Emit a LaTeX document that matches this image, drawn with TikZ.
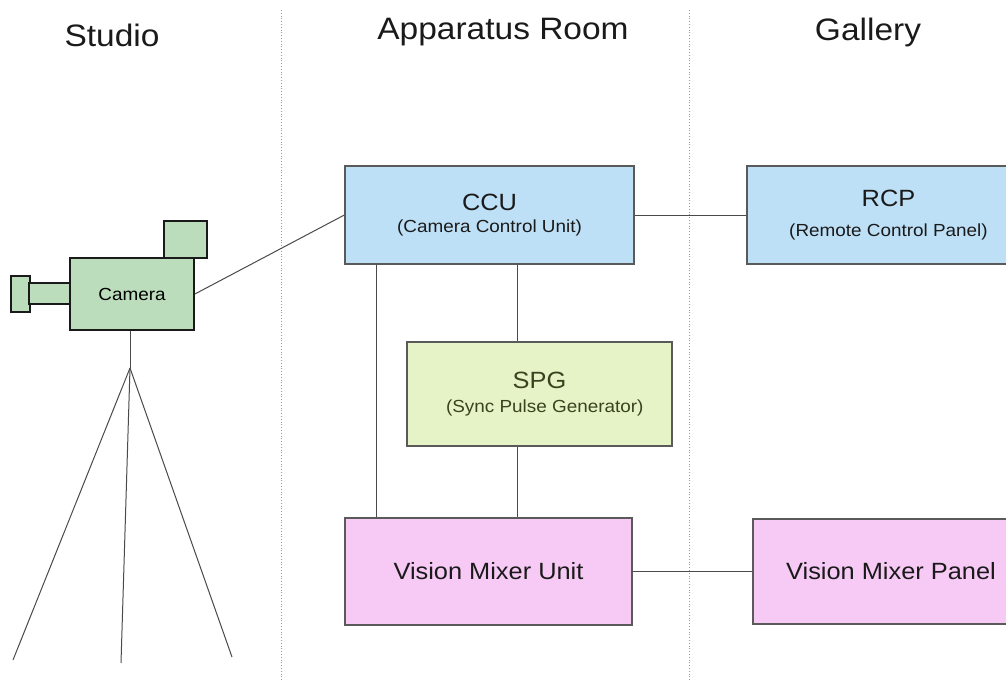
\documentclass[tikz,border=0pt]{standalone}
\usepackage{fontspec}
\setmainfont[FakeStretch=1.08]{Liberation Sans}
\usetikzlibrary{positioning,calc}
\definecolor{ink}{HTML}{1A1A1A}
\definecolor{edge}{HTML}{5A5A5A}
\definecolor{wire}{HTML}{4A4A4A}
\definecolor{ccublue}{HTML}{BEE0F6}
\definecolor{spggreen}{HTML}{E6F3C6}
\definecolor{spgtext}{HTML}{3A4220}
\definecolor{mixpink}{HTML}{F7CAF5}
\definecolor{camgreen}{HTML}{BCDDBC}
\newcommand{\subsize}{\fontsize{17.5}{20}\selectfont}
\tikzset{
  unit/.style={draw=edge,line width=1.3pt,align=center,text=ink,inner sep=0pt,font=\fontsize{23.5}{28}\selectfont},
  ctrl/.style={unit,fill=ccublue},
  sync/.style={unit,fill=spggreen,text=spgtext},
  mix/.style={unit,fill=mixpink},
  cambody/.style={draw=ink,line width=1.4pt,fill=camgreen},
  room/.style={font=\fontsize{31}{36}\selectfont,text=ink},
  wirel/.style={draw=wire,line width=1pt},
  divider/.style={draw=gray!80,dotted,line width=0.8pt},
}
\begin{document}
\begin{tikzpicture}[x=1pt,y=-1pt]
  \useasboundingbox (0,0) rectangle (1006,682);
  \clip (0,0) rectangle (1006,682);
  % room headings and dividers
  \node[room] (studio) at (112,35) {Studio};
  \node[room] (appar) at (503,32) {Apparatus Room};
  \node[room] (gallery) at (868,32) {Gallery};
  \draw[divider] (281,10) -- (281,682);
  \draw[divider] (689,10) -- (689,682);
  % units
  \node[ctrl,minimum width=289pt,minimum height=98pt] (ccu) at (489.5,215) {CCU\\[-6pt]{\subsize (Camera Control Unit)}};
  \node[ctrl,minimum width=283pt,minimum height=98pt] (rcp) at (888.5,215) {RCP\\[2pt]{\subsize (Remote Control Panel)}};
  \node[sync,minimum width=265pt,minimum height=104pt] (spg) at (539.5,394) {SPG\\[-4pt]{\subsize\ \ (Sync Pulse Generator)}};
  \node[mix,minimum width=287pt,minimum height=107pt] (vmu) at (488.5,571.5) {Vision Mixer Unit};
  \node[mix,minimum width=276pt,minimum height=105pt] (vmp) at (891,571.5) {Vision Mixer Panel};
  % camera on its tripod
  \draw[cambody] (11,276) rectangle (30,312);
  \draw[cambody] (29,283) rectangle (70,304);
  \draw[cambody] (164,221) rectangle (207,258);
  \node[cambody,line width=1.8pt,minimum width=124pt,minimum height=72pt,inner sep=0pt,font=\fontsize{17.5}{20}\selectfont] (cam) at (132,294) {Camera};
  \coordinate (head) at (130,368);
  \coordinate (footl) at (13,660);
  \coordinate (footm) at (121,663);
  \coordinate (footr) at (232,657);
  \draw[wirel] ([xshift=-2pt]cam.south) -- (head);
  \draw[wirel] (head) -- (footl);
  \draw[wirel] (head) -- (footm);
  \draw[wirel] (head) -- (footr);
  % connections
  \draw[wirel] (cam.east) -- (ccu.west);
  \draw[wirel] (ccu.east) -- (rcp.west);
  \draw[wirel] ([xshift=32pt]ccu.south west) -- ([xshift=32pt]vmu.north west);
  \draw[wirel] ([xshift=28pt]ccu.south) -- ([xshift=28pt]ccu.south |- spg.north);
  \draw[wirel] ([xshift=-22pt]spg.south) -- ([xshift=-22pt]spg.south |- vmu.north);
  \draw[wirel] (vmu.east) -- (vmp.west);
\end{tikzpicture}
\end{document}
